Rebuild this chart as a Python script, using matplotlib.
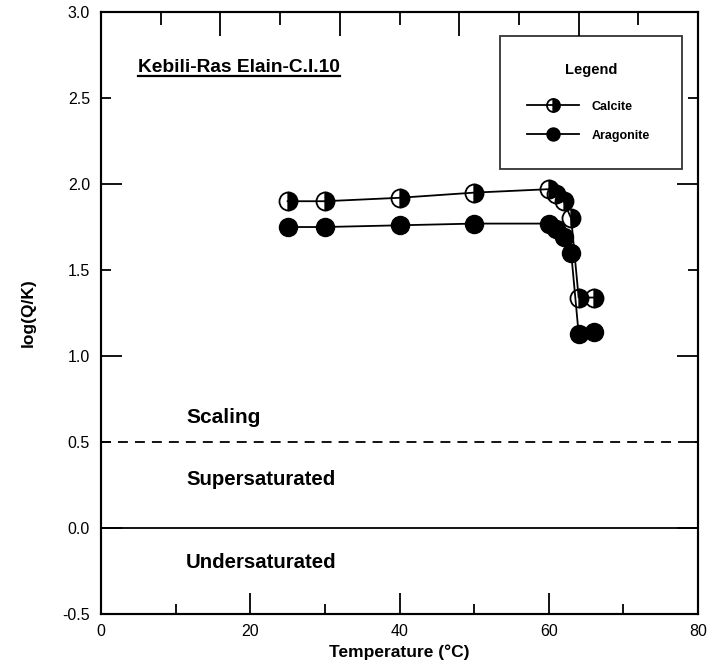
import numpy as np
from matplotlib import pyplot as plt
from matplotlib.ticker import MultipleLocator, FixedLocator, FormatStrFormatter

plt.rcParams['font.family'] = ['Liberation Sans', 'DejaVu Sans']

# Saturation index vs temperature
temp = [25, 30, 40, 50, 60, 61, 62, 63, 64, 66]
calcite = [1.90, 1.90, 1.92, 1.95, 1.97, 1.94, 1.90, 1.80, 1.34, 1.34]
aragonite = [1.75, 1.75, 1.76, 1.77, 1.77, 1.74, 1.69, 1.60, 1.13, 1.14]

fig = plt.figure(figsize=(7.18, 6.68), dpi=100)
ax = fig.add_axes([0.1407, 0.0808, 0.8315, 0.9012])

ax.plot(temp, calcite, color='black', lw=1.3, marker='o', ms=13,
        fillstyle='right', markerfacecolor='black', markerfacecoloralt='none',
        markeredgecolor='black', mew=1.3, label='Calcite')
ax.plot(temp, aragonite, color='black', lw=1.3, marker='o', ms=13,
        markerfacecolor='black', markeredgecolor='black', label='Aragonite')

ax.axhline(0.5, color='black', lw=1.3, ls=(0, (5.5, 3.9)))
ax.axhline(0.0, color='black', lw=1.3)

ax.set_xlim(0, 80)
ax.set_ylim(-0.5, 3.0)

# bottom axis: long ticks every 20, short every 10
ax.xaxis.set_major_locator(MultipleLocator(20))
ax.xaxis.set_minor_locator(MultipleLocator(10))
ax.tick_params(axis='x', which='major', direction='in', length=15, width=1.3,
               labelsize=11.5, top=False, pad=7)
ax.tick_params(axis='x', which='minor', direction='in', length=7.5, width=1.3, top=False)

# left/right axis: long ticks at whole numbers, short at halves, all labelled
ax.yaxis.set_major_locator(FixedLocator([0.0, 1.0, 2.0, 3.0]))
ax.yaxis.set_minor_locator(FixedLocator([-0.5, 0.5, 1.5, 2.5]))
ax.yaxis.set_major_formatter(FormatStrFormatter('%.1f'))
ax.yaxis.set_minor_formatter(FormatStrFormatter('%.1f'))
ax.tick_params(axis='y', which='major', direction='in', length=15, width=1.3,
               labelsize=11.5, left=True, right=True, pad=8)
ax.tick_params(axis='y', which='minor', direction='in', length=7.5, width=1.3,
               labelsize=11.5, left=True, right=True, pad=8)

# top axis has its own tick spacing
top = ax.twiny()
top.set_xlim(0, 80)
top.xaxis.set_major_locator(FixedLocator([16, 32, 48, 64]))
top.xaxis.set_minor_locator(FixedLocator([8, 24, 40, 56, 72]))
top.tick_params(axis='x', which='major', direction='in', length=17, width=1.3, labeltop=False)
top.tick_params(axis='x', which='minor', direction='in', length=9, width=1.3)

for s in list(ax.spines.values()) + list(top.spines.values()):
    s.set_linewidth(1.5)

ax.set_xlabel('Temperature (°C)', fontsize=12.5, fontweight='bold')
ax.xaxis.set_label_coords(0.5, -0.05)
ax.set_ylabel('log(Q/K)', fontsize=12.5, fontweight='bold')
ax.yaxis.set_label_coords(-0.11, 0.5)

leg = ax.legend(title='Legend', loc='upper left', mode='expand',
                bbox_to_anchor=(0.668, 0.5, 0.305, 0.461), borderaxespad=0,
                frameon=True, fancybox=False, edgecolor='black', markerscale=0.72,
                handlelength=4.1, handletextpad=1.05, borderpad=2.2, labelspacing=1.36,
                prop={'weight': 'bold', 'size': 9})
leg.get_title().set_fontweight('bold')
leg.get_title().set_fontsize(10.5)
leg.get_frame().set_linewidth(1.3)
leg._legend_box.sep = 17
leg.set_zorder(5)

title = ax.text(5.0, 2.68, 'Kebili-Ras Elain-C.I.10', fontsize=13.8, fontweight='bold',
                ha='left', va='center')
ax.text(11.4, 0.64, 'Scaling', fontsize=15, fontweight='bold', ha='left', va='center')
ax.text(11.4, 0.28, 'Supersaturated', fontsize=14.7, fontweight='bold', ha='left', va='center')
ax.text(11.4, -0.20, 'Undersaturated', fontsize=14.7, fontweight='bold', ha='left', va='center')

# underline the site name
fig.canvas.draw()
bb = title.get_window_extent().transformed(ax.transData.inverted())
ax.plot([bb.x0, bb.x1], [bb.y0 - 0.005, bb.y0 - 0.005], color='black', lw=1.6)

plt.savefig('out.png', dpi=100)
